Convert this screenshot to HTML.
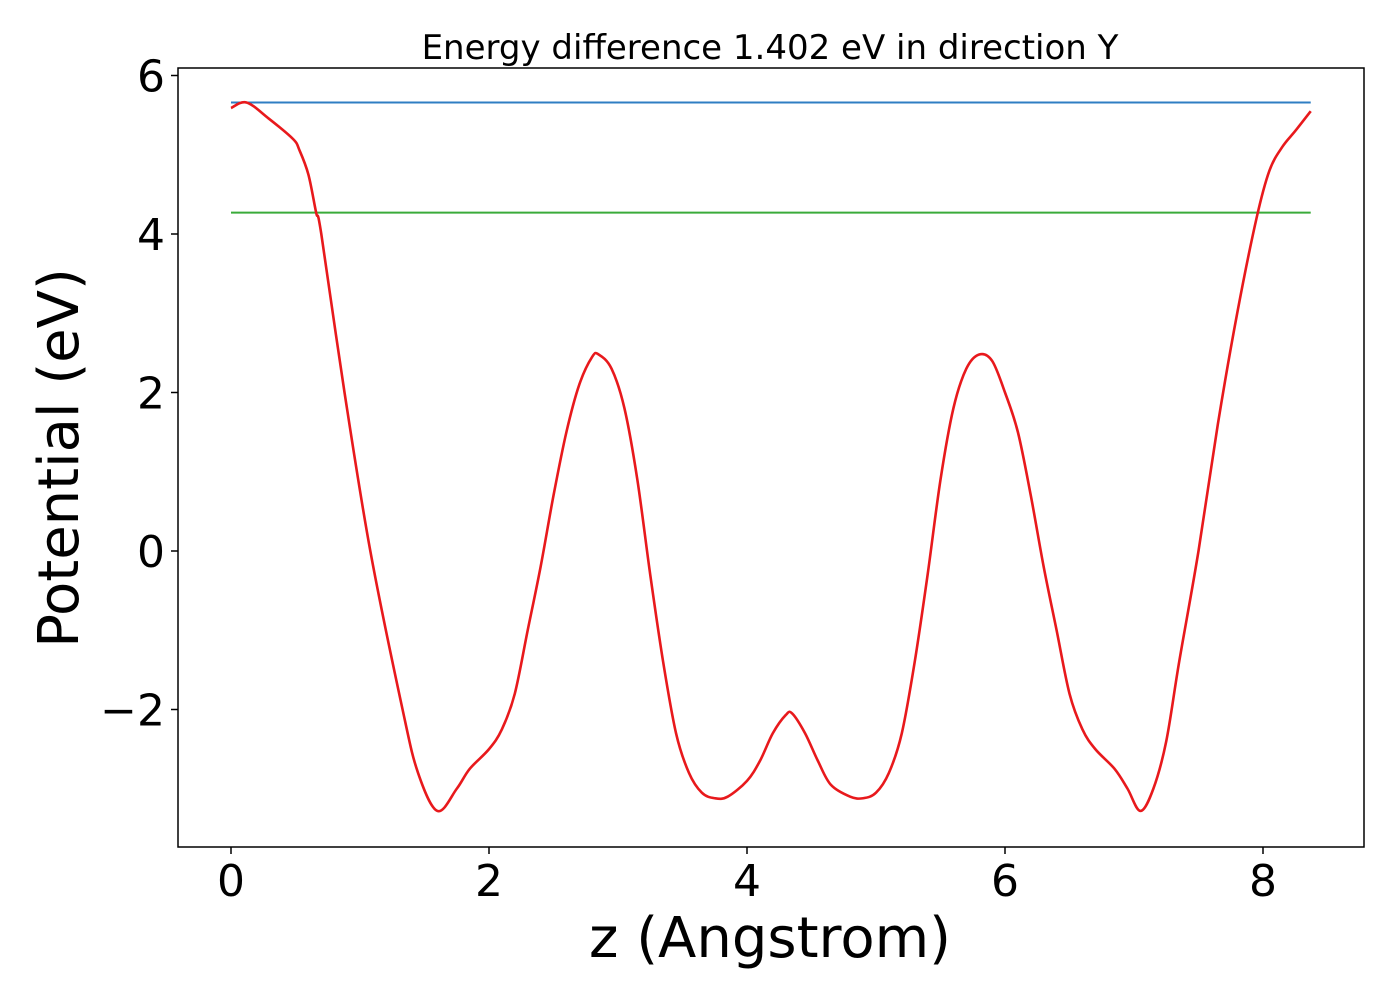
<!DOCTYPE html>
<html><head><meta charset="utf-8"><style>
html,body{margin:0;padding:0;background:#fff;overflow:hidden}
svg text{font-family:"DejaVu Sans","Liberation Sans",sans-serif;fill:#000}
</style></head><body>
<svg id="chart" width="1400" height="1000">
<defs><clipPath id="clip"><rect x="178" y="68" width="1186" height="779"/></clipPath></defs>
<text x="770" y="59" font-size="34" text-anchor="middle">Energy difference 1.402 eV in direction Y</text>
<g id="plot" clip-path="url(#clip)"></g>
<rect x="178" y="68" width="1186" height="779" fill="none" stroke="#000" stroke-width="1.5"/>
<g id="xt"></g><g id="yt"></g>
<text x="770" y="957" font-size="56" text-anchor="middle">z (Angstrom)</text>
<text transform="translate(78,458) rotate(-90)" font-size="56" text-anchor="middle">Potential (eV)</text>
</svg>
<script>
const zs=[0,0.12,0.29,0.48,0.53,0.6,0.66,0.7,0.88,1.08,1.33,1.45,1.6,1.75,1.85,2.0,2.1,2.2,2.3,2.4,2.5,2.6,2.7,2.8,2.85,2.95,3.05,3.15,3.25,3.35,3.45,3.55,3.65,3.75,3.85,4.0,4.1,4.2,4.3,4.35,4.45,4.55,4.65,4.8,4.9,5.0,5.1,5.2,5.3,5.4,5.5,5.6,5.7,5.8,5.9,6.0,6.1,6.2,6.3,6.4,6.5,6.6,6.7,6.85,6.95,7.05,7.15,7.25,7.35,7.5,7.65,7.8,7.95,8.05,8.15,8.25,8.37];
const pot=[5.59,5.66,5.46,5.2,5.06,4.75,4.27,4.0,2.0,0,-2,-2.8,-3.28,-3.0,-2.75,-2.5,-2.25,-1.8,-1.0,-0.2,0.7,1.5,2.1,2.45,2.48,2.3,1.8,0.9,-0.3,-1.4,-2.3,-2.8,-3.05,-3.12,-3.1,-2.9,-2.65,-2.3,-2.07,-2.05,-2.3,-2.65,-2.95,-3.1,-3.12,-3.05,-2.8,-2.3,-1.4,-0.3,0.9,1.8,2.3,2.48,2.4,2.0,1.5,0.7,-0.2,-1.0,-1.8,-2.25,-2.5,-2.75,-3.0,-3.28,-3.0,-2.4,-1.4,0,1.6,3.0,4.2,4.8,5.1,5.3,5.55];
const levels=[5.66,4.27];
const levelColors=["#2f7ec3","#3aab3a"];
const xTicks=[0,2,4,6,8];
const yTicks=[-2,0,2,4,6];
const X=z=>231+z*129, Y=v=>551-v*79.25;
const NS="http://www.w3.org/2000/svg";
const plot=document.getElementById('plot');
levels.forEach((lv,i)=>{const l=document.createElementNS(NS,'line');
l.setAttribute('x1',X(0));l.setAttribute('x2',X(zs[zs.length-1]));l.setAttribute('y1',Y(lv));l.setAttribute('y2',Y(lv));
l.setAttribute('stroke',levelColors[i]);l.setAttribute('stroke-width','2');


plot.appendChild(l);});
const P=zs.map((z,i)=>[X(z),Y(pot[i])]);
let d='M'+P[0][0]+','+P[0][1];
for(let i=0;i<P.length-1;i++){const p0=P[Math.max(0,i-1)],p1=P[i],p2=P[i+1],p3=P[Math.min(P.length-1,i+2)];
d+=` C${p1[0]+(p2[0]-p0[0])/6},${p1[1]+(p2[1]-p0[1])/6} ${p2[0]-(p3[0]-p1[0])/6},${p2[1]-(p3[1]-p1[1])/6} ${p2[0]},${p2[1]}`;}
const c=document.createElementNS(NS,'path');c.setAttribute('d',d);c.setAttribute('fill','none');c.setAttribute('stroke','#e8191c');c.setAttribute('stroke-width','2.6');


plot.appendChild(c);
const xt=document.getElementById('xt');
xTicks.forEach(t=>{const l=document.createElementNS(NS,'line');l.setAttribute('x1',X(t));l.setAttribute('x2',X(t));l.setAttribute('y1',847);l.setAttribute('y2',854);l.setAttribute('stroke','#000');l.setAttribute('stroke-width','1.5');


xt.appendChild(l);
const s=document.createElementNS(NS,'text');s.setAttribute('x',X(t));s.setAttribute('y',896);s.setAttribute('font-size','44');s.setAttribute('text-anchor','middle');s.textContent=t;


xt.appendChild(s);});
const yt=document.getElementById('yt');
yTicks.forEach(t=>{const l=document.createElementNS(NS,'line');l.setAttribute('x1',171);l.setAttribute('x2',178);l.setAttribute('y1',Y(t));l.setAttribute('y2',Y(t));l.setAttribute('stroke','#000');l.setAttribute('stroke-width','1.5');


yt.appendChild(l);
const s=document.createElementNS(NS,'text');s.setAttribute('x',165);s.setAttribute('y',Y(t)+16);s.setAttribute('font-size','44');s.setAttribute('text-anchor','end');s.textContent=t<0?'\u2212'+(-t):t;


yt.appendChild(s);});
</script>
</body></html>
